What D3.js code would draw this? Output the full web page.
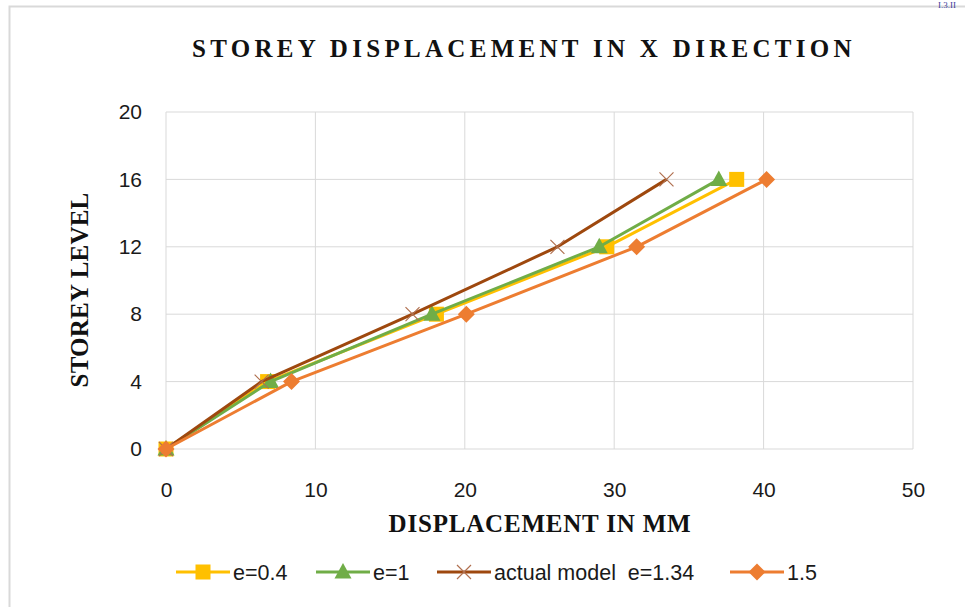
<!DOCTYPE html>
<html><head><meta charset="utf-8">
<script src="https://cdn.jsdelivr.net/npm/d3@7"></script>
<style>body{margin:0;background:#fff}</style>
</head><body>
<script>
const storeyLevels = [0, 4, 8, 12, 16];
const e04 = [0, 6.8, 18.1, 29.5, 38.2];
const e1 = [0, 7.0, 17.8, 29.0, 37.0];
const eActual = [0, 6.4, 16.5, 26.2, 33.5];
const e15 = [0, 8.4, 20.1, 31.5, 40.2];
const seriesNames = ["e=0.4", "e=1", "actual model  e=1.34", "1.5"];
const xTicks = [0, 10, 20, 30, 40, 50];
const yTicks = [0, 4, 8, 12, 16, 20];

const series = [
  {name: seriesNames[0], vals: e04, color: "#FFC000", marker: "square"},
  {name: seriesNames[1], vals: e1, color: "#70AD47", marker: "triangle"},
  {name: seriesNames[2], vals: eActual, color: "#9E480E", marker: "x"},
  {name: seriesNames[3], vals: e15, color: "#ED7D31", marker: "diamond"}
];

const W = 965, H = 607;
const svg = d3.select("body").append("svg").attr("width", W).attr("height", H);

svg.append("rect").attr("x", 9.5).attr("y", 6.5).attr("width", 1000).attr("height", 700)
  .attr("fill", "none").attr("stroke", "#d9d9d9").attr("stroke-width", 2);
svg.append("text").attr("x", 938).attr("y", 8).attr("fill", "#3a3a9a")
  .attr("font-family", "Liberation Serif").attr("font-size", 9).text("I.3.II");

const x = d3.scaleLinear().domain([0, 50]).range([166, 913]);
const y = d3.scaleLinear().domain([0, 20]).range([449, 112]);

// gridlines
svg.append("g").selectAll("line").data(yTicks).join("line")
  .attr("x1", x(0)).attr("x2", x(50)).attr("y1", d => y(d)).attr("y2", d => y(d))
  .attr("stroke", "#d9d9d9").attr("stroke-width", 1);
svg.append("g").selectAll("line").data(xTicks).join("line")
  .attr("y1", y(0)).attr("y2", y(20)).attr("x1", d => x(d)).attr("x2", d => x(d))
  .attr("stroke", "#d9d9d9").attr("stroke-width", 1);

// axes (tick labels only)
const xAxis = svg.append("g").attr("transform", `translate(0,${y(0)})`)
  .call(d3.axisBottom(x).tickValues(xTicks).tickSize(0).tickPadding(33));
const yAxis = svg.append("g").attr("transform", `translate(${x(0)},0)`)
  .call(d3.axisLeft(y).tickValues(yTicks).tickSize(0).tickPadding(24));
[xAxis, yAxis].forEach(a => {
  a.select(".domain").remove();
  a.selectAll("text").attr("font-family", "Liberation Sans, Arial, sans-serif")
    .attr("font-size", 21).attr("fill", "#1a1a1a");
});

// title
svg.append("text").attr("x", 524).attr("y", 57).attr("text-anchor", "middle")
  .attr("font-family", "Liberation Serif, serif").attr("font-weight", "bold")
  .attr("font-size", 25).attr("letter-spacing", 4.3).attr("fill", "#111")
  .text("STOREY DISPLACEMENT IN X DIRECTION");
svg.append("text").attr("x", 540).attr("y", 532).attr("text-anchor", "middle")
  .attr("font-family", "Liberation Serif, serif").attr("font-weight", "bold")
  .attr("font-size", 25).attr("letter-spacing", 0.8).attr("fill", "#111").text("DISPLACEMENT IN MM");
svg.append("text").attr("transform", "translate(88,290) rotate(-90)").attr("text-anchor", "middle")
  .attr("font-family", "Liberation Serif, serif").attr("font-weight", "bold")
  .attr("font-size", 25).attr("letter-spacing", 0.2).attr("fill", "#111").text("STOREY LEVEL");

function drawMarker(g, type, cx, cy, color) {
  if (type === "square") {
    g.append("rect").attr("x", cx - 7.5).attr("y", cy - 7.5).attr("width", 15).attr("height", 15).attr("fill", color);
  } else if (type === "triangle") {
    g.append("path").attr("d", `M${cx},${cy-9}L${cx+8.5},${cy+6.5}L${cx-8.5},${cy+6.5}Z`).attr("fill", color);
  } else if (type === "x") {
    g.append("path").attr("d", `M${cx-7},${cy-7}L${cx+7},${cy+7}M${cx+7},${cy-7}L${cx-7},${cy+7}`)
      .attr("stroke", "#B07050").attr("stroke-width", 1.2).attr("fill", "none");
  } else if (type === "diamond") {
    g.append("path").attr("d", `M${cx},${cy-8.5}L${cx+8.5},${cy}L${cx},${cy+8.5}L${cx-8.5},${cy}Z`).attr("fill", color);
  }
}

const line = d3.line().x(d => x(d[0])).y(d => y(d[1]));
series.forEach(s => {
  const g = svg.append("g");
  const pts = s.vals.map((v, i) => [v, storeyLevels[i]]);
  g.append("path").attr("d", line(pts)).attr("fill", "none").attr("stroke", s.color)
    .attr("stroke-width", 3).attr("stroke-linejoin", "round");
  pts.forEach(p => drawMarker(g, s.marker, x(p[0]), y(p[1]), s.color));
});

// legend
const legX = [176, 316, 437, 730];
const legY = 572;
series.forEach((s, i) => {
  const g = svg.append("g");
  g.append("line").attr("x1", legX[i]).attr("x2", legX[i] + 54).attr("y1", legY).attr("y2", legY)
    .attr("stroke", s.color).attr("stroke-width", 3);
  drawMarker(g, s.marker, legX[i] + 27, legY, s.color);
  g.append("text").attr("x", legX[i] + 57).attr("y", legY + 8)
    .attr("font-family", "Liberation Sans, Arial, sans-serif").attr("font-size", 21.5)
    .attr("fill", "#1a1a1a").style("white-space", "pre").text(s.name);
});
</script>
</body></html>
